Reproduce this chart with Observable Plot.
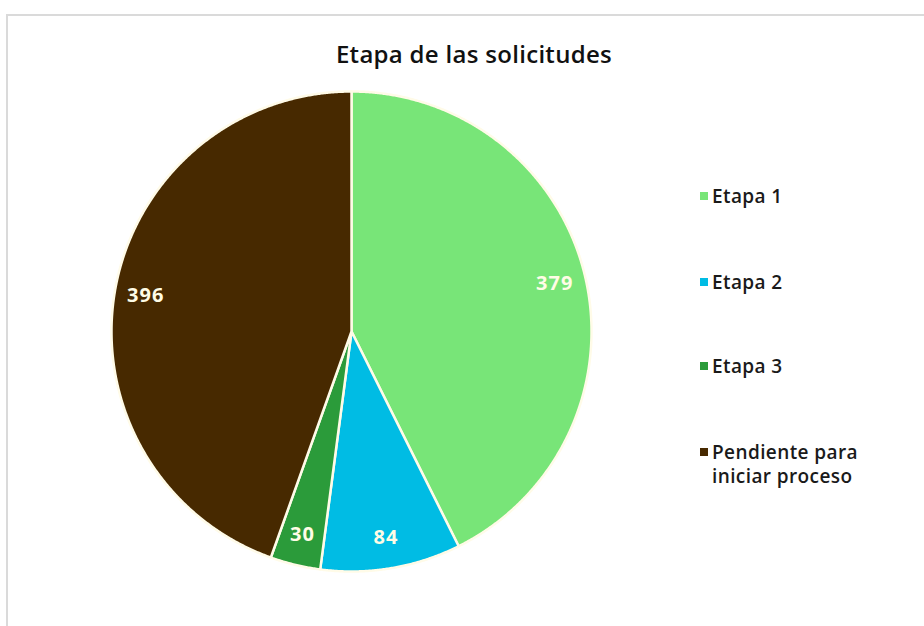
<!DOCTYPE html>
<html><head><meta charset="utf-8">
<script src="https://cdn.jsdelivr.net/npm/d3@7"></script>
<script src="https://cdn.jsdelivr.net/npm/@observablehq/plot@0.6"></script>
<style>
body{margin:0;background:#fff;}
#wrap{position:relative;width:924px;height:626px;overflow:hidden;font-family:"Open Sans",Lato,sans-serif;}
#border{position:absolute;left:6px;top:14px;width:1000px;height:1000px;border:2px solid #dadada;box-sizing:border-box;}
#chart{position:absolute;left:0;top:0;}
#title{position:absolute;top:37px;left:0;width:948px;text-align:center;font-size:24px;font-weight:600;color:#111;letter-spacing:0.3px;}
.leg{position:absolute;left:700px;font-weight:600;font-size:19px;color:#1a1a1a;line-height:24px;letter-spacing:0.4px;}
.leg i{position:absolute;left:0;top:8px;width:8px;height:8px;}
.leg span{display:block;margin-left:12px;}
</style></head>
<body>
<div id="wrap">
  <div id="border"></div>
  <div id="chart"></div>
  <div id="title">Etapa de las solicitudes</div>
  <div id="legend"></div>
</div>
<script>
const categories = ["Etapa 1", "Etapa 2", "Etapa 3", "Pendiente para iniciar proceso"];
const values = [379, 84, 30, 396];
const colors = ["#78E578", "#00BCE4", "#2B9B3A", "#472900"];
const legendLines = [["Etapa 1"], ["Etapa 2"], ["Etapa 3"], ["Pendiente para", "iniciar proceso"]];
const legendTops = [184, 270, 354, 440];

const arcs = d3.pie().sort(null).value(d => d)(values);
const poly = [];
arcs.forEach((a, i) => {
  const cat = categories[i];
  poly.push({cat, x: 0, y: 0});
  const n = Math.ceil((a.endAngle - a.startAngle) / 0.005);
  for (let k = 0; k <= n; k++) {
    const t = a.startAngle + (a.endAngle - a.startAngle) * k / n;
    poly.push({cat, x: Math.sin(t), y: Math.cos(t)});
  }
  poly.push({cat, x: 0, y: 0});
});
const labels = arcs.map((a, i) => {
  const m = (a.startAngle + a.endAngle) / 2;
  return {label: String(values[i]), x: 0.87 * Math.sin(m), y: 0.87 * Math.cos(m)};
});

const chart = Plot.plot({
  width: 924, height: 626, margin: 0,
  style: {background: "transparent"},
  x: {domain: [-1, 1], range: [111, 591], axis: null},
  y: {domain: [-1, 1], range: [571, 91], axis: null},
  color: {domain: categories, range: colors},
  marks: [
    Plot.line(poly, {x: "x", y: "y", z: "cat", fill: "cat", stroke: "#fffbe8", strokeWidth: 2.5, strokeLinejoin: "round"}),
    Plot.text(labels, {x: "x", y: "y", text: "label", fill: "#fffce6", fontSize: 20, fontWeight: "bold", fontFamily: "'Open Sans', sans-serif"})
  ]
});
document.getElementById("chart").appendChild(chart);
chart.querySelectorAll("text").forEach(t => t.setAttribute("letter-spacing", "1"));

const leg = document.getElementById("legend");
legendLines.forEach((lines, i) => {
  const d = document.createElement("div");
  d.className = "leg";
  d.style.top = legendTops[i] + "px";
  d.innerHTML = `<i style="background:${colors[i]}"></i>` + lines.map(l => `<span>${l}</span>`).join("");
  leg.appendChild(d);
});
</script>
</body></html>
